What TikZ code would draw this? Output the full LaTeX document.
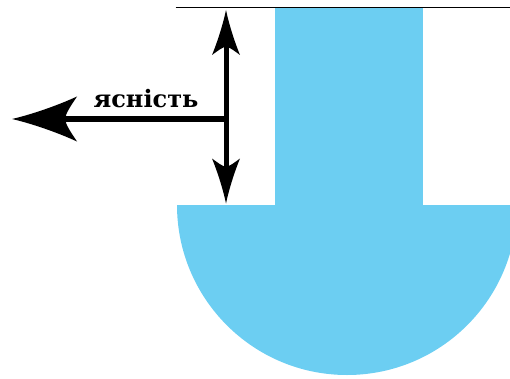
\documentclass[tikz,border=0pt]{standalone}
\usepackage{fontspec}
\newfontfamily\labelfont{DejaVu Serif}
\usetikzlibrary{arrows.meta}
\definecolor{waterblue}{RGB}{108,206,242}
\pgfdeclarearrow{
  name = CurvyHead,
  parameters = {\the\pgfarrowlength,\the\pgfarrowwidth},
  setup code = {
    \pgfarrowssettipend{0pt}
    \pgfarrowssetlineend{-0.6\pgfarrowlength}
    \pgfarrowssetbackend{-\pgfarrowlength}
    \pgfarrowssavethe\pgfarrowlength
    \pgfarrowssavethe\pgfarrowwidth
  },
  drawing code = {
    \pgfpathmoveto{\pgfqpoint{0pt}{0pt}}
    \pgfpathcurveto{\pgfpoint{-0.3\pgfarrowlength}{0.1\pgfarrowwidth}}{\pgfpoint{-0.7\pgfarrowlength}{0.3\pgfarrowwidth}}{\pgfpoint{-\pgfarrowlength}{0.5\pgfarrowwidth}}
    \pgfpathcurveto{\pgfpoint{-0.9\pgfarrowlength}{0.28\pgfarrowwidth}}{\pgfpoint{-0.82\pgfarrowlength}{0.12\pgfarrowwidth}}{\pgfpoint{-0.82\pgfarrowlength}{0pt}}
    \pgfpathcurveto{\pgfpoint{-0.82\pgfarrowlength}{-0.12\pgfarrowwidth}}{\pgfpoint{-0.9\pgfarrowlength}{-0.28\pgfarrowwidth}}{\pgfpoint{-\pgfarrowlength}{-0.5\pgfarrowwidth}}
    \pgfpathcurveto{\pgfpoint{-0.7\pgfarrowlength}{-0.3\pgfarrowwidth}}{\pgfpoint{-0.3\pgfarrowlength}{-0.1\pgfarrowwidth}}{\pgfqpoint{0pt}{0pt}}
    \pgfpathclose
    \pgfusepathqfill
  },
  defaults = {length=45pt, width=28pt}
}
\tikzset{
  water/.style={fill=waterblue, draw=none},
  surface/.style={draw=black, line width=1.5pt},
  vertarrow/.style={draw=black, line width=5pt, {CurvyHead[length=45pt,width=28pt]}-{CurvyHead[length=45pt,width=28pt]}},
  horarrow/.style={draw=black, line width=6.5pt, -{CurvyHead[length=65pt,width=45pt]}},
  lbl/.style={font=\labelfont\bfseries\fontsize{24}{29}\selectfont, inner sep=0pt, anchor=base}
}
\begin{document}
\begin{tikzpicture}[x=1pt,y=1pt]
\useasboundingbox (0,0) rectangle (510,378);
\begin{scope}
  \clip (0,0) rectangle (510,378);
  \fill[water] (275,370.7) rectangle (423,172);
  \fill[water] (177,173) arc[start angle=180, end angle=360, radius=170] -- cycle;
\end{scope}
\coordinate (surfL) at (175.5,370.7);
\coordinate (surfR) at (510,370.7);
\draw[surface] (surfL) -- (surfR);
\coordinate (vtop) at (226,368);
\coordinate (vbot) at (226,174.5);
\coordinate (hjoin) at (226,259);
\coordinate (hleft) at (12,259);
\draw[vertarrow] (vbot) -- (vtop);
\draw[horarrow] (hjoin) -- (hleft);
\node[lbl] (label) at (146,270.7) {ясність};
\end{tikzpicture}
\end{document}
